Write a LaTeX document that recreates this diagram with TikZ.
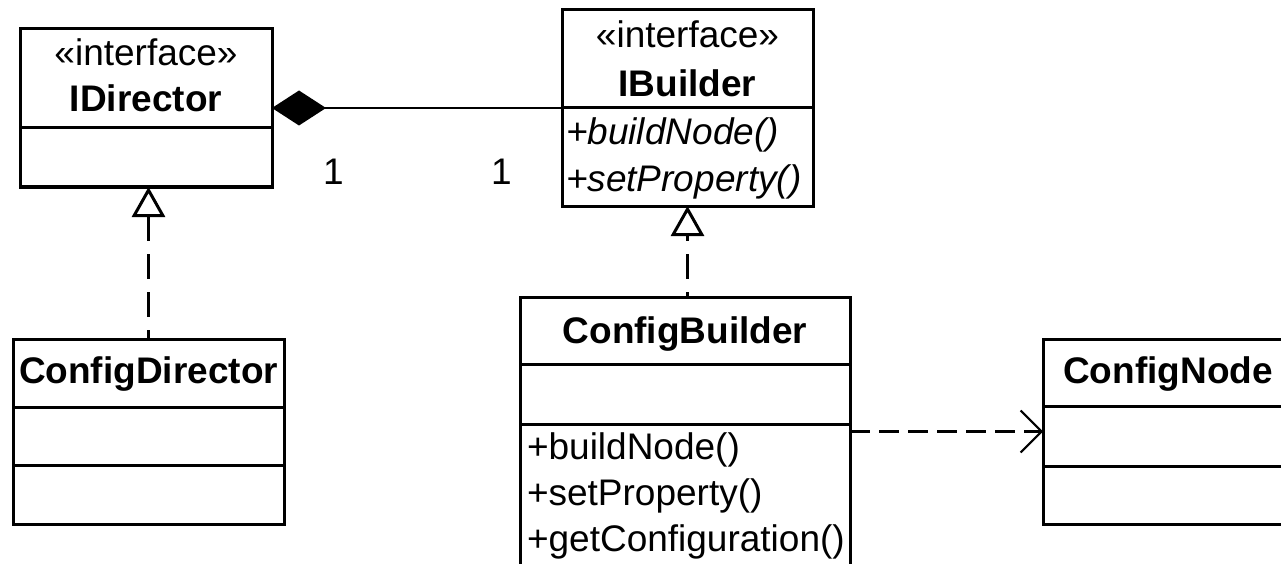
\documentclass[tikz,border=0pt]{standalone}
\usepackage{fontspec}
\setmainfont{Liberation Sans}
\usetikzlibrary{arrows.meta}

\begin{document}
\begin{tikzpicture}[x=1pt, y=-1pt,
  classbox/.style={draw, line width=3pt, rectangle, inner sep=0pt, outer sep=0pt},
  rule/.style={line width=3pt},
  txt/.style={inner sep=0pt, outer sep=0pt, font=\fontsize{37}{44}\selectfont},
  cname/.style={txt, anchor=base, font=\fontsize{37}{44}\selectfont\bfseries},
  stereo/.style={txt, anchor=base},
  member/.style={txt, anchor=base west},
  amember/.style={txt, anchor=base west, font=\fontsize{37}{44}\selectfont\itshape},
  mult/.style={txt, anchor=base},
  comp/.style={line width=2pt, -{Diamond[length=54pt, width=35pt]}},
  realize/.style={line width=3.2pt, dash pattern=on 25pt off 13pt,
    {Triangle[open, length=30pt, width=33pt, line width=3pt]}-},
  dep/.style={line width=3pt, dash pattern=on 20pt off 9pt,
    -{Straight Barb[length=21pt, width=42pt, line width=2pt]}}
]
\useasboundingbox (0,0) rectangle (1281,564);
\clip (0,0) rectangle (1281,564);

% IDirector interface
\node[classbox, minimum width=252pt, minimum height=158pt] (idir) at (146,108) {};
\draw[rule] (20,128) -- (272,128);
\node[stereo] (idir-st) at (146,66) {«interface»};
\node[cname] (idir-n) at (146,112) {IDirector};

% IBuilder interface
\node[classbox, minimum width=251pt, minimum height=196pt] (ib) at (687.5,108) {};
\draw[rule] (562,108) -- (813,108);
\node[stereo] (ib-st) at (687.5,48) {«interface»};
\node[cname] (ib-n) at (687.5,97) {IBuilder};
\node[amember] (ib-m1) at (566,145) {+buildNode()};
\node[amember] (ib-m2) at (566,191) {+setProperty()};

% ConfigDirector class
\node[classbox, minimum width=271pt, minimum height=185pt] (cdir) at (148.5,431.5) {};
\draw[rule] (13,407) -- (284,407);
\draw[rule] (13,465) -- (284,465);
\node[cname] (cdir-n) at (148.5,383) {ConfigDirector};

% ConfigBuilder class
\node[classbox, minimum width=330pt, minimum height=300pt] (cb) at (685,447) {};
\draw[rule] (520,364) -- (850,364);
\draw[rule] (520,424) -- (850,424);
\node[cname] (cb-n) at (685,343) {ConfigBuilder};
\node[member] (cb-m1) at (527,459) {+buildNode()};
\node[member] (cb-m2) at (527,505) {+setProperty()};
\node[member] (cb-m3) at (527,551) {+getConfiguration()};

% ConfigNode class
\node[classbox, minimum width=250pt, minimum height=185pt] (cn) at (1168,431.5) {};
\draw[rule] (1043,406) -- (1293,406);
\draw[rule] (1043,466) -- (1293,466);
\node[cname] (cn-n) at (1168,383) {ConfigNode};

% composition IDirector <>-- IBuilder
\draw[comp] (ib.west) -- (idir.east);
\node[mult] (m1) at (333.5,184) {1};
\node[mult] (m2) at (501.5,184) {1};

% realizations
\draw[realize] (cdir.north |- idir.south) -- (cdir.north);
\draw[realize, dash phase=19pt] (ib.south) -- (ib.south |- cb.north);

% dependency ConfigBuilder ---> ConfigNode
\draw[dep] (cb.east |- cn.west) -- (cn.west);
\end{tikzpicture}
\end{document}
